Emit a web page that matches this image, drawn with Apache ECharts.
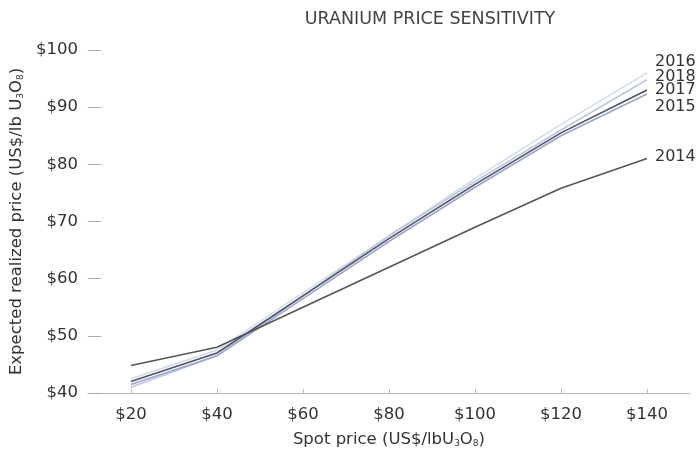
<!DOCTYPE html>
<html>
<head>
<meta charset="utf-8">
<script src="https://cdn.jsdelivr.net/npm/echarts@6/dist/echarts.min.js"></script>
<style>
  html, body { margin: 0; padding: 0; background: #ffffff; }
  #chart { width: 699px; height: 453px; }
</style>
</head>
<body>
<div id="chart"></div>
<script>
// Spot price points (US$/lb U3O8)
const spotPrices = [20, 40, 60, 80, 100, 120, 140];
const xTickValues = [20, 40, 60, 80, 100, 120, 140];

// Expected realized price by contract-book year (US$/lb U3O8)
const years = ['2014', '2015', '2016', '2017', '2018'];
const realized2014 = [44.8, 48.0, 55.0, 62.0, 69.0, 75.8, 81.0];
const realized2015 = [41.5, 46.5, 56.5, 66.5, 76.0, 85.0, 92.3];
const realized2016 = [42.5, 47.5, 57.5, 67.5, 77.5, 87.0, 96.0];
const realized2017 = [42.0, 47.0, 57.0, 67.0, 76.5, 85.5, 93.0];
const realized2018 = [41.0, 46.5, 57.0, 67.5, 77.0, 86.0, 94.8];

const realizedByYear = {
  '2014': realized2014,
  '2015': realized2015,
  '2016': realized2016,
  '2017': realized2017,
  '2018': realized2018
};

// Line styling and end-label vertical offsets (labels are spread apart)
const lineColors = {
  '2014': '#555555',
  '2015': '#9aa6c6',
  '2016': '#d3dbee',
  '2017': '#4c5166',
  '2018': '#bcc7e2'
};
const labelShift = {
  '2014': -2,
  '2015': 13,
  '2016': -11,
  '2017': 0,
  '2018': -3
};
const drawOrder = ['2016', '2018', '2015', '2014', '2017'];

const chart = echarts.init(document.getElementById('chart'), null, { renderer: 'canvas' });

const FONT = '"DejaVu Sans", Verdana, sans-serif';
const TXT = 16.5;

const subRich = { s: { fontSize: 9, verticalAlign: 'bottom', color: '#333333', fontFamily: FONT, padding: [8, 0, 0, 0] } };

const series = drawOrder.map(function (y) {
  return {
    name: y,
    type: 'line',
    data: spotPrices.map(function (x, i) { return [x, realizedByYear[y][i]]; }),
    showSymbol: false,
    smooth: false,
    lineStyle: { color: lineColors[y], width: 1.6 },
    itemStyle: { color: lineColors[y] },
    endLabel: {
      show: true,
      formatter: y,
      distance: 8,
      offset: [0, labelShift[y]],
      color: '#333333',
      fontFamily: FONT,
      fontSize: 16
    },
    emphasis: { disabled: true },
    silent: true
  };
});

chart.setOption({
  animation: false,
  backgroundColor: '#ffffff',
  title: {
    text: 'URANIUM PRICE SENSITIVITY',
    left: 425,
    textAlign: 'center',
    top: 5,
    textStyle: { color: '#444444', fontFamily: FONT, fontSize: 17.5, fontWeight: 'normal' }
  },
  grid: { left: 87, right: 9, top: 50, bottom: 56, containLabel: false },
  xAxis: {
    type: 'value',
    min: 10,
    max: 150,
    name: 'Spot price (US$/lbU{s|3}O{s|8})',
    nameLocation: 'middle',
    nameGap: 38,
    nameTextStyle: { color: '#333333', fontFamily: FONT, fontSize: TXT, rich: subRich },
    splitLine: { show: false },
    axisLine: { show: true, lineStyle: { color: '#bbbbbb', width: 1 } },
    axisTick: { show: true, inside: true, length: 4, lineStyle: { color: '#bbbbbb' }, customValues: xTickValues },
    axisLabel: {
      color: '#333333', fontFamily: FONT, fontSize: TXT, margin: 13,
      customValues: xTickValues,
      formatter: function (v) { return '$' + v; }
    }
  },
  yAxis: {
    type: 'value',
    min: 40,
    max: 100,
    interval: 10,
    name: 'Expected realized price (US$/lb U{s|3}O{s|8})',
    nameLocation: 'middle',
    nameGap: 58,
    nameTextStyle: { color: '#333333', fontFamily: FONT, fontSize: TXT, rich: subRich },
    splitLine: { show: false },
    axisLine: { show: false },
    axisTick: { show: true, inside: true, length: 13, lineStyle: { color: '#aaaaaa' } },
    axisLabel: {
      color: '#333333', fontFamily: FONT, fontSize: TXT, margin: 10,
      formatter: function (v) { return '$' + v; }
    }
  },
  series: series
});
</script>
</body>
</html>
